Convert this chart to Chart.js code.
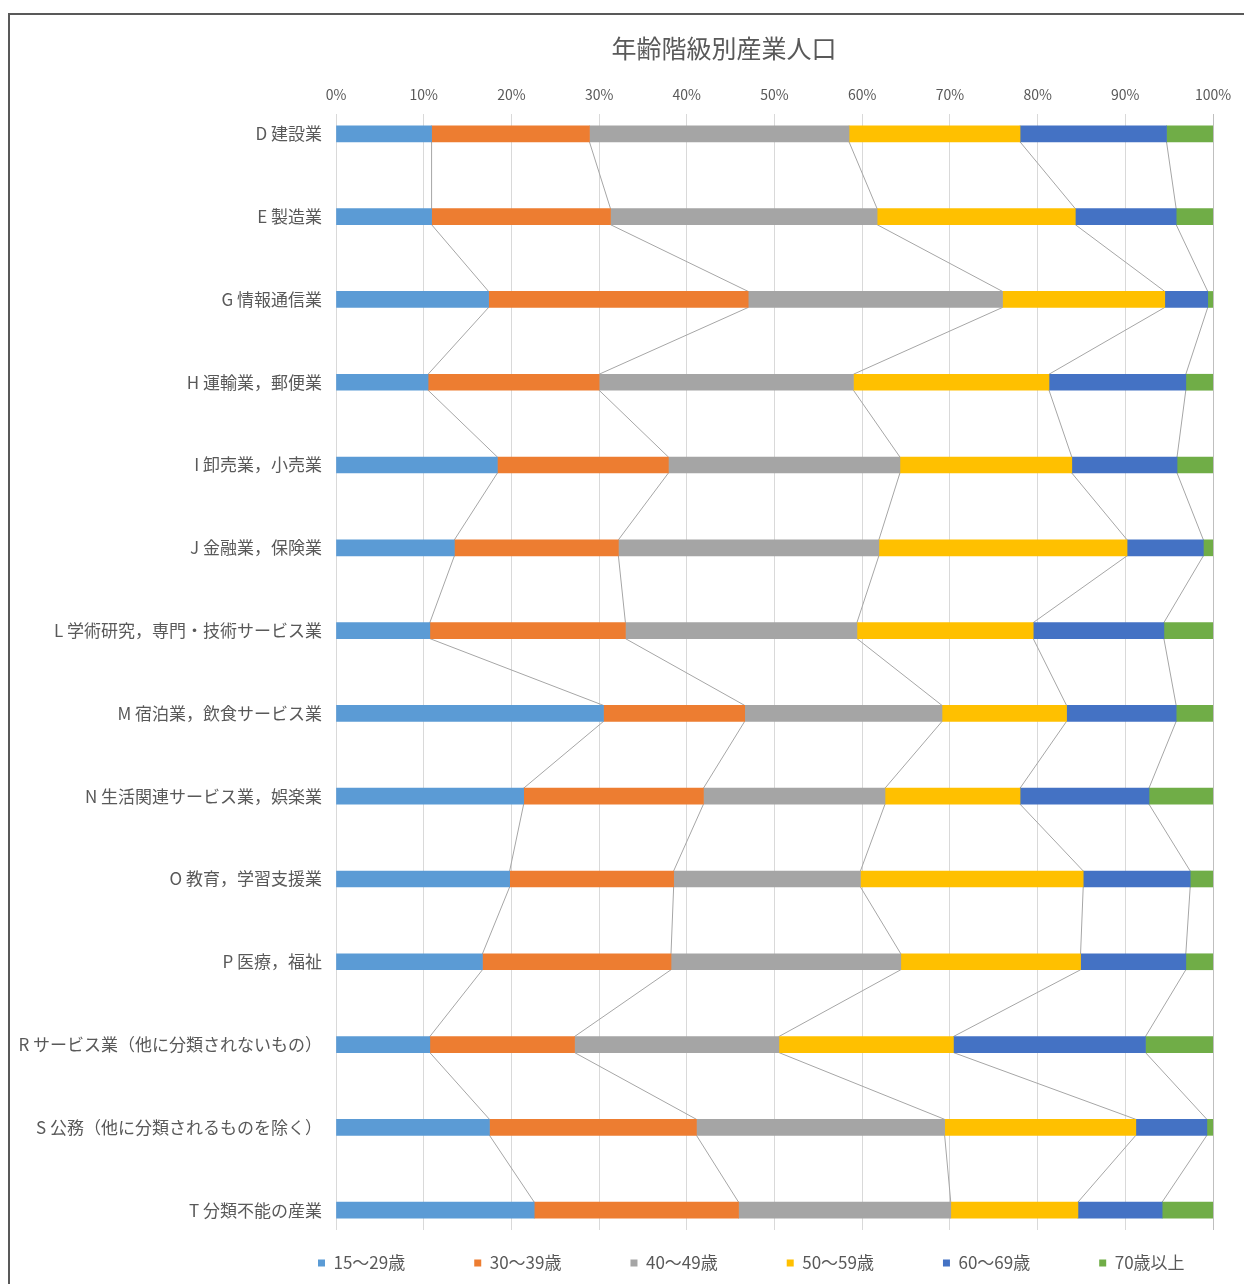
<!DOCTYPE html>
<html lang="ja">
<head>
<meta charset="utf-8">
<title>年齢階級別産業人口</title>
<script src="https://cdn.jsdelivr.net/npm/chart.js@4.4.1/dist/chart.umd.min.js"></script>
<style>
  html, body { margin: 0; padding: 0; background: #fff; overflow: hidden; width: 1244px; height: 1284px; }
  #frame {
    position: absolute; left: 8px; top: 13px; width: 1400px; height: 1400px;
    border-left: 2px solid #595959; border-top: 2px solid #595959;
  }
  #chart { display: block; }
</style>
</head>
<body>
<div id="frame"><canvas id="chart" width="1234" height="1269"></canvas></div>
<script>
// Industries (top to bottom)
const categories = [
  'D 建設業',
  'E 製造業',
  'G 情報通信業',
  'H 運輸業，郵便業',
  'I 卸売業，小売業',
  'J 金融業，保険業',
  'L 学術研究，専門・技術サービス業',
  'M 宿泊業，飲食サービス業',
  'N 生活関連サービス業，娯楽業',
  'O 教育，学習支援業',
  'P 医療，福祉',
  'R サービス業（他に分類されないもの）',
  'S 公務（他に分類されるものを除く）',
  'T 分類不能の産業'
];

// Age groups
const ageGroups = ['15～29歳', '30～39歳', '40～49歳', '50～59歳', '60～69歳', '70歳以上'];

// Share of workers in each age group (%), one value per industry
const age15to29 = [10.9, 10.9, 17.4, 10.5, 18.4, 13.5, 10.7, 30.5, 21.4, 19.8, 16.7, 10.7, 17.5, 22.6];
const age30to39 = [18.0, 20.4, 29.6, 19.5, 19.5, 18.7, 22.3, 16.1, 20.5, 18.7, 21.5, 16.5, 23.6, 23.3];
const age40to49 = [29.6, 30.4, 29.0, 29.0, 26.4, 29.7, 26.4, 22.5, 20.7, 21.3, 26.2, 23.3, 28.3, 24.2];
const age50to59 = [19.5, 22.6, 18.5, 22.3, 19.6, 28.3, 20.1, 14.2, 15.4, 25.4, 20.5, 19.9, 21.8, 14.5];
const age60to69 = [16.7, 11.5,  4.9, 15.6, 12.0,  8.7, 14.9, 12.5, 14.7, 12.2, 12.0, 21.9,  8.1,  9.6];
const age70plus = [ 5.3,  4.2,  0.6,  3.1,  4.1,  1.1,  5.6,  4.2,  7.3,  2.6,  3.1,  7.7,  0.7,  5.8];

// Percentage axis ticks
const percentTicks = [0, 10, 20, 30, 40, 50, 60, 70, 80, 90, 100];

const seriesValues = [age15to29, age30to39, age40to49, age50to59, age60to69, age70plus];
const seriesColors = ['#5B9BD5', '#ED7D31', '#A5A5A5', '#FFC000', '#4472C4', '#70AD47'];
const textColor = '#595959';

Chart.defaults.font.family = '"Noto Sans CJK JP", "Noto Sans", sans-serif';
Chart.defaults.color = textColor;

// Thin connector lines between the ends of matching segments on neighbouring bars
const seriesLines = {
  id: 'seriesLines',
  beforeDatasetsDraw(chart, args, opts) {
    const ctx = chart.ctx;
    const n = chart.data.datasets.length;
    ctx.save();
    ctx.strokeStyle = opts.color;
    ctx.lineWidth = opts.width;
    for (let d = 0; d < n - 1; d++) {
      const bars = chart.getDatasetMeta(d).data;
      ctx.beginPath();
      for (let i = 0; i < bars.length - 1; i++) {
        const a = bars[i], b = bars[i + 1];
        ctx.moveTo(a.x, a.y + a.height / 2);
        ctx.lineTo(b.x, b.y - b.height / 2);
      }
      ctx.stroke();
    }
    ctx.restore();
  }
};

// Places the title and the legend row after layout
const placeBoxes = {
  id: 'placeBoxes',
  afterLayout(chart, args, opts) {
    const title = chart.titleBlock;
    if (title) {
      const w = title.right - title.left;
      title.left = opts.titleCenterX - w / 2;
      title.right = title.left + w;
    }
    const legend = chart.legend;
    if (legend) {
      const pad = legend.options.labels.padding;
      const w = legend.right - legend.left;
      legend.left = opts.legendLeft - pad;
      legend.right = legend.left + w;
      legend.top = opts.legendTop - pad;
      legend.bottom = opts.legendTop + 40;
    }
  }
};

const datasets = ageGroups.map((name, s) => ({
  label: name,
  data: seriesValues[s].map((v, i) => ({ x: v, y: i })),
  backgroundColor: seriesColors[s],
  borderWidth: 0,
  barThickness: 16
}));

new Chart(document.getElementById('chart'), {
  type: 'bar',
  data: { datasets },
  plugins: [seriesLines, placeBoxes],
  options: {
    indexAxis: 'y',
    responsive: false,
    animation: false,
    devicePixelRatio: 1,
    layout: { padding: { top: 0, left: 0, right: 31, bottom: 0 } },
    scales: {
      x: {
        type: 'linear',
        position: 'top',
        stacked: true,
        offset: false,
        min: 0,
        max: 100,
        afterBuildTicks: s => { s.ticks = percentTicks.map(v => ({ value: v })); },
        afterFit: s => { s.height = 51; },
        ticks: {
          callback: v => v + '%',
          font: { size: 14 },
          color: textColor,
          padding: 11
        },
        grid: {
          color: c => (c.tick && c.tick.value === 100 ? '#bfbfbf' : '#d9d9d9'),
          lineWidth: 1,
          drawTicks: false,
          offset: false
        },
        border: { display: false }
      },
      y: {
        type: 'linear',
        stacked: true,
        reverse: true,
        offset: false,
        min: -0.24,
        max: categories.length - 1 + 0.24,
        afterBuildTicks: s => { s.ticks = categories.map((_, i) => ({ value: i })); },
        afterFit: s => { s.width = 326; },
        ticks: {
          callback: v => categories[v],
          font: { size: 17 },
          color: textColor,
          padding: 14,
          autoSkip: false
        },
        grid: { display: false, drawTicks: false, offset: false },
        border: { display: false }
      }
    },
    plugins: {
      title: {
        display: true,
        text: '年齢階級別産業人口',
        color: textColor,
        font: { size: 25, weight: 'normal' },
        padding: { top: 18, bottom: 0 }
      },
      legend: {
        position: 'bottom',
        align: 'start',
        maxHeight: 54,
        labels: {
          boxWidth: 7,
          boxHeight: 7,
          padding: 69,
          color: textColor,
          font: { size: 17 }
        }
      },
      tooltip: { enabled: false },
      seriesLines: { color: '#a6a6a6', width: 1 },
      placeBoxes: { titleCenterX: 714, legendLeft: 308, legendTop: 1239.5 }
    }
  }
});
</script>
</body>
</html>
